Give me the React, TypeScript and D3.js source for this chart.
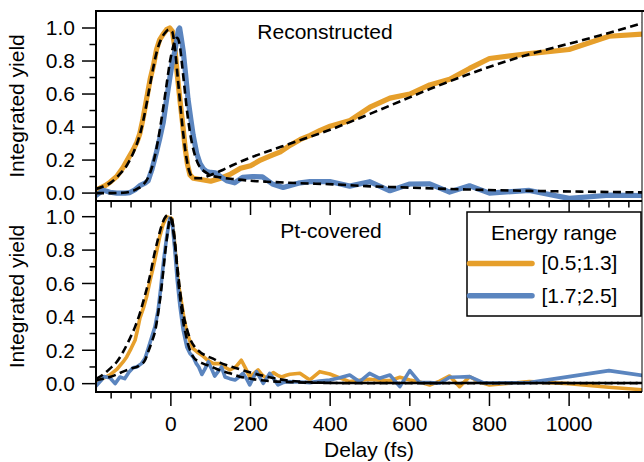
import React from 'react';
import * as d3 from 'd3';

type P = [number, number];

// ---------- data (delay fs, integrated yield) ----------
const topOrange: P[] = [
  [-188, 0.02], [-178, 0.03], [-165, 0.045], [-153, 0.065], [-136, 0.1], [-120, 0.155], [-107, 0.21],
  [-95, 0.26], [-85, 0.31], [-78, 0.36], [-70, 0.45], [-61, 0.57], [-52, 0.69], [-44, 0.77], [-36, 0.87],
  [-28, 0.93], [-20, 0.96], [-11, 0.99], [-3, 1.0], [4, 0.98], [10, 0.88], [16, 0.72], [23, 0.56],
  [30, 0.41], [36, 0.27], [42, 0.17], [48, 0.11], [56, 0.09], [75, 0.082], [100, 0.072], [125, 0.09],
  [150, 0.115], [175, 0.15], [200, 0.165], [225, 0.2], [250, 0.225], [275, 0.25], [300, 0.29],
  [325, 0.325], [350, 0.35], [375, 0.38], [400, 0.405], [450, 0.44], [500, 0.52], [550, 0.575],
  [600, 0.6], [650, 0.655], [700, 0.69], [750, 0.755], [800, 0.815], [900, 0.845], [1000, 0.87],
  [1100, 0.95], [1200, 0.965],
];
const topBlue: P[] = [
  [-188, -0.015], [-170, 0.018], [-153, 0.005], [-136, 0.0], [-115, 0.0], [-103, 0.003], [-90, 0.02],
  [-78, 0.045], [-65, 0.06], [-57, 0.075], [-48, 0.14], [-36, 0.25], [-28, 0.33], [-19, 0.43],
  [-10, 0.58], [-2.5, 0.7], [4, 0.8], [10, 0.86], [15, 0.93], [19, 0.99], [22, 1.0], [26, 0.94],
  [31, 0.86], [37, 0.72], [43, 0.57], [50, 0.45], [56, 0.35], [65, 0.24], [73, 0.18], [82, 0.145],
  [90, 0.13], [100, 0.125], [112, 0.123], [125, 0.1], [140, 0.075], [160, 0.062], [180, 0.095],
  [205, 0.1], [230, 0.098], [255, 0.055], [282, 0.034], [320, 0.06], [349, 0.069], [399, 0.07],
  [449, 0.042], [499, 0.069], [550, 0.014], [600, 0.055], [650, 0.056], [700, 0.006], [750, 0.044],
  [800, 0.0], [900, 0.016], [1000, -0.032], [1100, -0.013], [1200, -0.015],
];
const topOrangeFit: P[] = [
  [-188, 0.025], [-170, 0.04], [-150, 0.065], [-130, 0.11], [-110, 0.17], [-95, 0.24], [-85, 0.3],
  [-75, 0.38], [-65, 0.49], [-55, 0.62], [-45, 0.75], [-35, 0.86], [-25, 0.93], [-15, 0.97], [-5, 0.99],
  [3, 0.98], [10, 0.88], [18, 0.68], [25, 0.5], [32, 0.34], [40, 0.2], [48, 0.12], [58, 0.09],
  [75, 0.09], [100, 0.11], [130, 0.14], [156, 0.17], [200, 0.215], [240, 0.25], [300, 0.3],
  [407, 0.39], [500, 0.48], [575, 0.555], [650, 0.63], [742, 0.715], [825, 0.785], [909, 0.847],
  [1000, 0.905], [1077, 0.955], [1185, 1.03],
];
const topBlueFit: P[] = [
  [-188, 0.0], [-150, 0.0], [-120, 0.002], [-100, 0.01], [-85, 0.025], [-70, 0.05], [-58, 0.09],
  [-47, 0.16], [-37, 0.26], [-28, 0.38], [-19, 0.52], [-10, 0.67], [-2, 0.8], [5, 0.88], [11, 0.93],
  [16, 0.94], [22, 0.9], [28, 0.78], [35, 0.62], [42, 0.47], [50, 0.34], [58, 0.25], [66, 0.19],
  [75, 0.15], [85, 0.13], [98, 0.11], [125, 0.095], [156, 0.085], [200, 0.075], [240, 0.069],
  [324, 0.06], [407, 0.053], [491, 0.042], [575, 0.035], [742, 0.022], [909, 0.013], [1050, 0.008],
  [1185, 0.004],
];

const botOrange: P[] = [
  [-188, 0.012], [-170, 0.032], [-153, 0.052], [-136, 0.085], [-120, 0.13], [-111, 0.16], [-100, 0.21],
  [-90, 0.26], [-84, 0.32], [-78, 0.39], [-68, 0.46], [-61, 0.52], [-52, 0.62], [-44, 0.7],
  [-36, 0.79], [-28, 0.88], [-20, 0.95], [-11, 1.0], [2, 0.99], [8, 0.88], [14, 0.72], [20, 0.58],
  [27, 0.48], [33, 0.39], [39, 0.32], [47, 0.26], [56, 0.21], [66, 0.19], [78, 0.17], [90, 0.145],
  [106, 0.12], [123, 0.12], [135, 0.1], [148, 0.082], [163, 0.1], [177, 0.14], [188, 0.09],
  [198, 0.04], [208, 0.06], [219, 0.082], [230, 0.05], [240, 0.032], [248, 0.05], [257, 0.066],
  [268, 0.05], [278, 0.04], [290, 0.05], [299, 0.056], [324, 0.062], [349, 0.022], [374, 0.072],
  [399, 0.058], [424, 0.035], [449, 0.012], [474, 0.02], [499, 0.026], [524, 0.02], [550, 0.018],
  [575, 0.038], [600, 0.022], [625, 0.01], [650, -0.008], [675, 0.015], [700, 0.046], [725, -0.018],
  [750, 0.042], [775, 0.01], [800, -0.008], [900, 0.012], [1000, 0.0], [1100, -0.022], [1200, -0.04],
];
const botBlue: P[] = [
  [-188, -0.015], [-175, 0.02], [-168, 0.042], [-153, 0.035], [-140, 0.0], [-128, 0.04], [-116, 0.03],
  [-105, 0.07], [-95, 0.095], [-86, 0.1], [-74, 0.12], [-65, 0.15], [-57, 0.21], [-48, 0.28],
  [-40, 0.34], [-32, 0.44], [-25, 0.58], [-18, 0.74], [-11, 0.87], [-3, 0.99], [4, 0.95], [10, 0.8],
  [16, 0.62], [23, 0.46], [31, 0.32], [40, 0.22], [48, 0.18], [56, 0.16], [64, 0.12], [70, 0.1],
  [78, 0.055], [86, 0.09], [94, 0.13], [102, 0.09], [110, 0.045], [118, 0.07], [127, 0.1],
  [136, 0.04], [148, 0.03], [161, 0.022], [171, 0.04], [181, 0.062], [190, 0.03], [198, -0.008],
  [207, 0.035], [215, 0.072], [224, 0.035], [232, 0.002], [240, 0.03], [248, 0.062], [258, 0.03],
  [269, -0.008], [280, 0.005], [290, 0.012], [324, 0.01], [349, 0.006], [374, 0.015], [399, 0.022],
  [424, 0.035], [449, 0.052], [474, 0.012], [499, 0.062], [524, 0.032], [550, 0.052], [575, -0.018],
  [600, 0.078], [625, 0.006], [650, 0.006], [675, 0.002], [700, 0.038], [725, 0.04], [750, 0.042],
  [784, 0.006], [800, 0.004], [900, 0.006], [1000, 0.042], [1100, 0.078], [1200, 0.044],
];
const botOrangeFit: P[] = [
  [-188, 0.028], [-170, 0.055], [-153, 0.09], [-136, 0.13], [-120, 0.19], [-103, 0.27], [-90, 0.34],
  [-78, 0.42], [-65, 0.53], [-53, 0.64], [-42, 0.77], [-32, 0.87], [-24, 0.94], [-16, 0.99],
  [-8, 1.01], [0, 0.99], [8, 0.88], [14, 0.75], [20, 0.62], [26, 0.5], [32, 0.41], [40, 0.33],
  [48, 0.27], [60, 0.22], [73, 0.19], [90, 0.165], [106, 0.15], [123, 0.126], [148, 0.105],
  [173, 0.086], [198, 0.068], [223, 0.052], [248, 0.038], [273, 0.026], [320, 0.013], [374, 0.006],
  [450, 0.003], [600, 0.003], [1185, 0.003],
];
const botBlueFit: P[] = [
  [-188, 0.02], [-170, 0.03], [-153, 0.04], [-136, 0.055], [-120, 0.072], [-100, 0.09], [-78, 0.11],
  [-65, 0.14], [-57, 0.19], [-48, 0.25], [-40, 0.31], [-34, 0.39], [-28, 0.49], [-21, 0.63],
  [-15, 0.77], [-9, 0.89], [-4, 0.97], [2, 0.99], [7, 0.92], [12, 0.8], [18, 0.63], [24, 0.5],
  [31, 0.37], [38, 0.29], [44, 0.23], [50, 0.19], [56, 0.16], [68, 0.135], [81, 0.12], [98, 0.105],
  [115, 0.088], [130, 0.074], [148, 0.062], [173, 0.042], [200, 0.03], [223, 0.021], [250, 0.015],
  [300, 0.009], [374, 0.005], [450, 0.004], [1185, 0.004],
];

const xMajorTicks = [0, 200, 400, 600, 800, 1000];
const xMinorTicks = d3.range(-150, 1200, 50).filter((t) => t % 200 !== 0);
const yMajorTicks = [0, 0.2, 0.4, 0.6, 0.8, 1.0];
const yMinorTicks = [0.1, 0.3, 0.5, 0.7, 0.9];

const panelTitles = ['Reconstructed', 'Pt-covered'];
const legendTitle = 'Energy range';
const seriesNames = ['[0.5;1.3]', '[1.7;2.5]'];
const xLabel = 'Delay (fs)';
const yLabel = 'Integrated yield';

// ---------- layout ----------
const W = 644;
const H = 462;
const LEFT = 96;
const RIGHT = 642;
const ORANGE = '#E69F2B';
const BLUE = '#5B85BF';
const FONT = '"Liberation Sans", Arial, Helvetica, sans-serif';
const FS = 21;

const x = d3.scaleLinear().domain([-188, 1183]).range([LEFT, RIGHT]);

const panels = [
  {
    top: 11, bottom: 201,
    y: d3.scaleLinear().domain([-0.048, 1.103]).range([201, 11]),
    data: [topOrange, topBlue], fits: [topOrangeFit, topBlueFit], lw: 5.2,
    title: panelTitles[0], titleX: 325, titleY: 39,
  },
  {
    top: 201, bottom: 392,
    y: d3.scaleLinear().domain([-0.05, 1.094]).range([392, 201]),
    data: [botOrange, botBlue], fits: [botOrangeFit, botBlueFit], lw: 3.6,
    title: panelTitles[1], titleX: 331, titleY: 238,
  },
];

export default function App() {
  const colors = [ORANGE, BLUE];
  return (
    <svg width={W} height={H} style={{ position: 'absolute', left: 0, top: 0, background: '#fff' }}
      fontFamily={FONT}>
      <rect x={0} y={0} width={W} height={H} fill="#fff" />
      <defs>
        {panels.map((p, i) => (
          <clipPath id={`clip${i}`} key={i}>
            <rect x={LEFT} y={p.top} width={RIGHT - LEFT} height={p.bottom - p.top} />
          </clipPath>
        ))}
      </defs>
      {panels.map((p, i) => {
        const line = d3.line<P>().x((d) => x(d[0])).y((d) => p.y(d[1]));
        const fitLine = d3.line<P>().x((d) => x(d[0])).y((d) => p.y(d[1])).curve(d3.curveMonotoneX);
        return (
          <g key={i}>
            <g clipPath={`url(#clip${i})`}>
              {p.data.map((s, j) => (
                <path key={j} d={line(s) || ''} fill="none" stroke={colors[j]} strokeWidth={p.lw}
                  strokeLinejoin="round" strokeLinecap="round" />
              ))}
              {p.fits.map((s, j) => (
                <path key={'f' + j} d={fitLine(s) || ''} fill="none" stroke="#000" strokeWidth={2.6}
                  strokeDasharray="8,4.5" />
              ))}
            </g>
            {/* y ticks */}
            {yMajorTicks.map((v) => (
              <g key={'ym' + v}>
                <line x1={LEFT - 14} x2={LEFT} y1={p.y(v)} y2={p.y(v)} stroke="#000" strokeWidth={1.5} />
                <text x={LEFT - 21} y={p.y(v)} dy="0.35em" textAnchor="end" fontSize={FS}>
                  {d3.format('.1f')(v)}
                </text>
              </g>
            ))}
            {yMinorTicks.map((v) => (
              <line key={'yn' + v} x1={LEFT - 6.5} x2={LEFT} y1={p.y(v)} y2={p.y(v)} stroke="#000" strokeWidth={1.5} />
            ))}
            {/* x ticks at panel bottom */}
            {xMajorTicks.map((t) => (
              <line key={'xm' + t} x1={x(t)} x2={x(t)} y1={p.bottom} y2={p.bottom + 14} stroke="#000" strokeWidth={1.5} />
            ))}
            {xMinorTicks.map((t) => (
              <line key={'xn' + t} x1={x(t)} x2={x(t)} y1={p.bottom} y2={p.bottom + 6.5} stroke="#000" strokeWidth={1.5} />
            ))}
            {/* frame */}
            <line x1={RIGHT} x2={RIGHT} y1={p.top} y2={p.bottom} stroke="#000" strokeWidth={1} />
            <line x1={LEFT} x2={RIGHT} y1={p.bottom} y2={p.bottom} stroke="#000" strokeWidth={2} />
            <line x1={LEFT} x2={LEFT} y1={p.top} y2={p.bottom + 1} stroke="#000" strokeWidth={2} />
            <text x={p.titleX} y={p.titleY} textAnchor="middle" fontSize={FS}>{p.title}</text>
            <text transform={`translate(24,${(p.top + p.bottom) / 2}) rotate(-90)`} textAnchor="middle" fontSize={FS}>
              {yLabel}
            </text>
          </g>
        );
      })}
      <line x1={LEFT - 1} x2={W} y1={11} y2={11} stroke="#000" strokeWidth={2} />
      {/* x tick labels */}
      {xMajorTicks.map((t) => (
        <text key={'xl' + t} x={x(t)} y={431} textAnchor="middle" fontSize={FS}>{t}</text>
      ))}
      <text x={(LEFT + RIGHT) / 2} y={457} textAnchor="middle" fontSize={FS}>{xLabel}</text>
      {/* legend */}
      <g>
        <rect x={467} y={212} width={174} height={104} fill="#fff" stroke="#000" strokeWidth={1.5} />
        <text x={554} y={239.5} textAnchor="middle" fontSize={FS}>{legendTitle}</text>
        {seriesNames.map((n, j) => {
          const ly = 263.5 + j * 32.3;
          return (
            <g key={n}>
              <line x1={469.5} x2={532} y1={ly} y2={ly} stroke={colors[j]} strokeWidth={5.5} strokeLinecap="round" />
              <text x={541.5} y={ly + 6.8} fontSize={FS}>{n}</text>
            </g>
          );
        })}
      </g>
    </svg>
  );
}
